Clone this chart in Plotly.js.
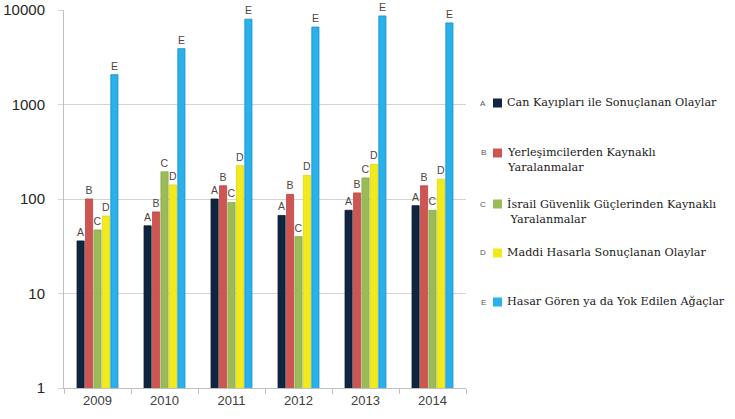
<!DOCTYPE html>
<html>
<head>
<meta charset="utf-8">
<script src="https://cdn.plot.ly/plotly-3.0.1.min.js"></script>
<style>html,body{margin:0;padding:0;background:#fff;}#chart{width:735px;height:419px;}</style>
</head>
<body>
<div id="chart"></div>
<script>
// ---- data ----
const years = ['2009', '2010', '2011', '2012', '2013', '2014'];
const canKayiplari = [36, 52, 100, 67, 76, 85];
const yerlesimci = [100, 73, 138, 112, 116, 138];
const guvenlik = [47, 194, 92, 40, 167, 76];
const maddiHasar = [66, 141, 225, 178, 233, 162];
const agaclar = [2070, 3900, 8000, 6600, 8650, 7300];

const letters = ['A', 'B', 'C', 'D', 'E'];
const seriesNames = [
  'Can Kayıpları ile Sonuçlanan Olaylar',
  'Yerleşimcilerden Kaynaklı<br>Yaralanmalar',
  'İsrail Güvenlik Güçlerinden Kaynaklı<br> Yaralanmalar',
  'Maddi Hasarla Sonuçlanan Olaylar',
  'Hasar Gören ya da Yok Edilen Ağaçlar'
];
const colors = ['#10253f', '#cf5552', '#9bbb59', '#f2ea1c', '#29b1e9'];
const lineColors = ['#0b1a2e', '#b84845', '#8aa94c', '#e0d812', '#1b8cc9'];
const yTickVals = [1, 10, 100, 1000, 10000];
const yTickText = ['1', '10', '100', '1000', '10000'];

const seriesValues = [canKayiplari, yerlesimci, guvenlik, maddiHasar, agaclar];

const traces = seriesValues.map((vals, i) => ({
  type: 'bar',
  x: years,
  y: vals,
  name: seriesNames[i],
  text: vals.map(() => letters[i]),
  textposition: 'outside',
  constraintext: 'none',
  cliponaxis: false,
  textfont: {family: 'Liberation Sans', size: 10.5, color: '#4f463e'},
  marker: {color: colors[i], line: {color: lineColors[i], width: 0.8}},
  showlegend: false,
  hoverinfo: 'x+y'
}));

// ---- custom legend (letter, swatch, label) on the right ----
const plotL = 64, plotR = 466, plotT = 10, plotB = 388;
const pw = plotR - plotL, ph = plotB - plotT;
const px2x = p => (p - plotL) / pw;
const py2y = p => (plotB - p) / ph;
const legendRowY = [103, 153, 204, 253, 302];

const annotations = [];
const shapes = [];
legendRowY.forEach((cy, i) => {
  annotations.push({
    xref: 'paper', yref: 'paper', x: px2x(488), y: py2y(cy),
    xanchor: 'right', yanchor: 'middle', showarrow: false,
    text: letters[i], font: {family: 'Liberation Sans', size: 8, color: '#555555'}
  });
  shapes.push({
    type: 'rect', xref: 'paper', yref: 'paper',
    x0: px2x(493), x1: px2x(502), y0: py2y(cy + 4.5), y1: py2y(cy - 4.5),
    fillcolor: colors[i], line: {width: 0}
  });
  annotations.push({
    xref: 'paper', yref: 'paper', x: px2x(505), y: py2y(cy - 9),
    xanchor: 'left', yanchor: 'top', align: 'left', showarrow: false,
    text: seriesNames[i],
    font: {family: 'DejaVu Serif', size: 11.2, color: '#1a1a1a'}
  });
});

const layout = {
  width: 735, height: 419,
  margin: {l: plotL, r: 735 - plotR, t: plotT, b: 419 - plotB, pad: 0},
  paper_bgcolor: '#ffffff', plot_bgcolor: '#ffffff',
  barmode: 'group', bargap: 0.37, bargroupgap: 0.15,
  showlegend: false,
  xaxis: {
    type: 'category',
    showgrid: false,
    showline: true, linecolor: '#bfbfbf', linewidth: 1,
    ticks: 'outside', tickson: 'boundaries', ticklen: 5, tickcolor: '#bfbfbf',
    tickfont: {family: 'Liberation Sans', size: 13, color: '#404040'},
    zeroline: false
  },
  yaxis: {
    type: 'log', range: [0, 4],
    tickvals: yTickVals, ticktext: yTickText,
    showgrid: true, gridcolor: '#d4d4d4', gridwidth: 1,
    showline: true, linecolor: '#bfbfbf', linewidth: 1,
    ticks: 'outside', ticklen: 5, tickcolor: '#d4d4d4',
    ticklabelstandoff: 10,
    tickfont: {family: 'Liberation Sans', size: 15, color: '#262626'},
    zeroline: false
  },
  annotations: annotations,
  shapes: shapes
};

Plotly.newPlot('chart', traces, layout, {displayModeBar: false, staticPlot: true});
</script>
</body>
</html>
